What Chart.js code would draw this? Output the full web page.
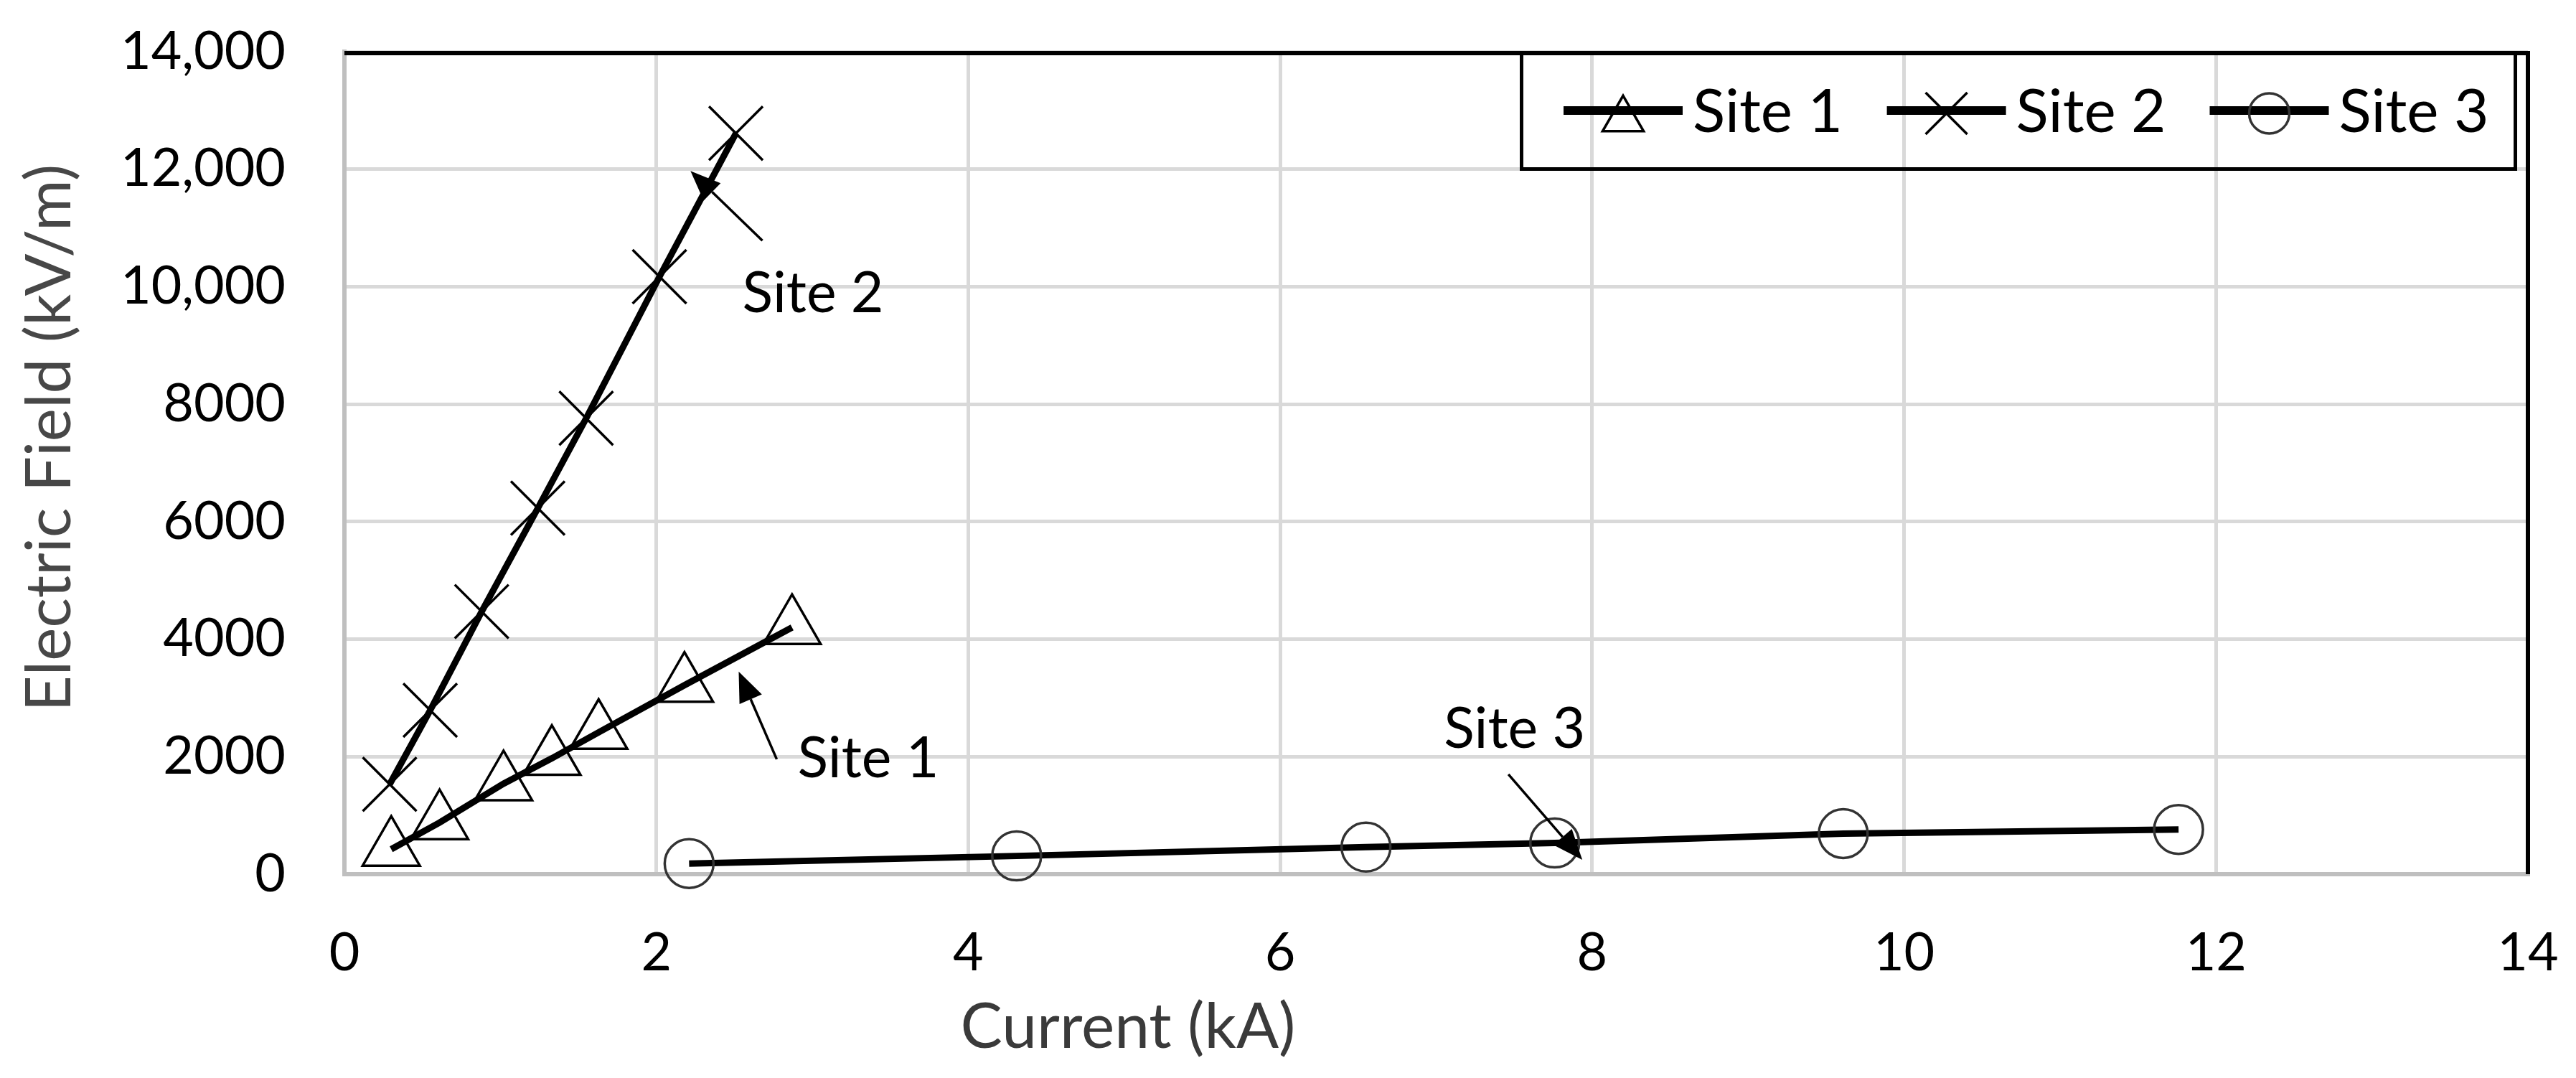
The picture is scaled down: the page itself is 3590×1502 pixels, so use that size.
<!DOCTYPE html>
<html>
<head>
<meta charset="utf-8">
<script src="https://cdn.jsdelivr.net/npm/chart.js@4.4.0/dist/chart.umd.min.js"></script>
<style>
html,body{margin:0;padding:0;background:#fff;overflow:hidden}
canvas{display:block}
</style>
</head>
<body>
<canvas id="c" width="3590" height="1502"></canvas>
<script>
// ---- data ----
const seriesNames = ['Site 1', 'Site 2', 'Site 3'];
const site1Current = [0.30, 0.61, 1.02, 1.33, 1.63, 2.18, 2.87];
const site1Field   = [425, 878, 1540, 1972, 2415, 3216, 4200];
const site2Current = [0.29, 0.55, 0.88, 1.24, 1.55, 2.02, 2.51];
const site2Field   = [1530, 2790, 4470, 6230, 7760, 10170, 12610];
const site3Current = [2.21, 4.31, 6.55, 7.76, 9.61, 11.76];
const site3Field   = [180, 310, 460, 530, 690, 760];
const xTickLabels = ['0', '2', '4', '6', '8', '10', '12', '14'];
const yTickLabels = ['0', '2000', '4000', '6000', '8000', '10,000', '12,000', '14,000'];
const xTitle = 'Current (kA)';
const yTitle = 'Electric Field (kV/m)';
const calloutTexts = ['Site 2', 'Site 1', 'Site 3'];

// ---- layout / style (kept apart from the data) ----
const FONT = 'Lato, "Open Sans", "Liberation Sans", sans-serif';
const mctx = document.createElement('canvas').getContext('2d');
function fitSize(text, width) {
  mctx.font = '100px ' + FONT;
  return 100 * width / mctx.measureText(text).width;
}
const tickSize = fitSize('14,000', 230);
const legendSize = fitSize('Site 1', 209);
const calloutSize = fitSize('Site 2', 197);
const xTitleSize = fitSize(xTitle, 467);
const yTitleSize = fitSize(yTitle, 763);

// callout placement in data units: label anchor (left, baseline), arrow tail, arrow tip
const calloutPlacement = [
  {tx: 2.551, ty: 9561, x0: 2.680, y0: 10784, x1: 2.219, y1: 11970},
  {tx: 2.905, ty: 1650, x0: 2.772, y0: 1956, x1: 2.528, y1: 3448},
  {tx: 7.049, ty: 2152, x0: 7.463, y0: 1700, x1: 7.937, y1: 245}
];

const markerStyles = [
  {pointStyle: 'triangle', radius: 46, legendRadius: 33, bw: 3.5, color: '#000'},
  {pointStyle: 'crossRot', radius: 53, legendRadius: 41, bw: 3.5, color: '#000'},
  {pointStyle: 'circle', radius: 34, legendRadius: 28, bw: 3.5, color: '#333'}
];

function pts(xs, ys) { return xs.map((x, i) => ({x: x, y: ys[i]})); }
function ds(i, data) {
  const m = markerStyles[i];
  return {
    label: seriesNames[i],
    data: data,
    showLine: true,
    borderColor: '#000',
    borderWidth: 9,
    pointStyle: m.pointStyle,
    pointRadius: m.radius,
    pointHoverRadius: m.radius,
    pointBorderWidth: m.bw,
    pointBorderColor: m.color,
    pointBackgroundColor: 'rgba(0,0,0,0)',
    clip: false
  };
}

const decorPlugin = {
  id: 'decor',
  afterDraw(chart) {
    const c = chart.ctx;
    const a = chart.chartArea;
    const xs = chart.scales.x, ys = chart.scales.y;
    c.save();
    // black top / right frame of the plot area
    c.strokeStyle = '#000';
    c.lineWidth = 6;
    c.beginPath();
    c.moveTo(a.left, a.top + 2); c.lineTo(a.right + 3, a.top + 2);
    c.moveTo(a.right, a.top); c.lineTo(a.right, a.bottom);
    c.stroke();

    // legend box
    c.lineWidth = 5;
    c.strokeRect(2120.5, a.top + 2.5, 1385, 161);
    const itemX = [2179, 2629.6, 3079.5];
    const lineY = a.top + 82;
    chart.data.datasets.forEach((d, i) => {
      const x0 = itemX[i];
      c.strokeStyle = '#000';
      c.lineWidth = 12;
      c.beginPath(); c.moveTo(x0, lineY); c.lineTo(x0 + 166, lineY); c.stroke();
      const m = markerStyles[i];
      c.strokeStyle = m.color;
      c.fillStyle = 'rgba(0,0,0,0)';
      c.lineWidth = m.bw;
      const py = m.pointStyle === 'triangle' ? lineY + 4 + m.legendRadius / 4 : lineY + 4;
      Chart.helpers.drawPoint(c, {pointStyle: m.pointStyle, radius: m.legendRadius, borderWidth: m.bw, rotation: 0}, x0 + 83, py);
      c.fillStyle = '#000';
      c.font = legendSize + 'px ' + FONT;
      c.textAlign = 'left';
      c.textBaseline = 'alphabetic';
      c.fillText(d.label, x0 + 180, lineY + 30);
    });

    // callouts with arrows
    calloutPlacement.forEach((p, i) => {
      const lx = xs.getPixelForValue(p.tx), ly = ys.getPixelForValue(p.ty);
      c.fillStyle = '#000';
      c.font = calloutSize + 'px ' + FONT;
      c.textAlign = 'left';
      c.textBaseline = 'alphabetic';
      c.fillText(calloutTexts[i], lx, ly);
      const ax = xs.getPixelForValue(p.x0), ay = ys.getPixelForValue(p.y0);
      const bx = xs.getPixelForValue(p.x1), by = ys.getPixelForValue(p.y1);
      const ang = Math.atan2(by - ay, bx - ax);
      const L = 42, W = 17;
      const hx = bx - L * Math.cos(ang), hy = by - L * Math.sin(ang);
      c.strokeStyle = '#000';
      c.lineWidth = 3.5;
      c.beginPath(); c.moveTo(ax, ay); c.lineTo(hx, hy); c.stroke();
      c.beginPath();
      c.moveTo(bx, by);
      c.lineTo(hx + W * Math.sin(ang), hy - W * Math.cos(ang));
      c.lineTo(hx - W * Math.sin(ang), hy + W * Math.cos(ang));
      c.closePath();
      c.fill();
    });

    // axis titles
    c.fillStyle = '#3a3a3a';
    c.font = xTitleSize + 'px ' + FONT;
    c.textAlign = 'center';
    c.textBaseline = 'alphabetic';
    c.fillText(xTitle, 1572, 1460);
    c.save();
    c.translate(98, 610);
    c.rotate(-Math.PI / 2);
    c.fillStyle = '#474747';
    c.font = yTitleSize + 'px ' + FONT;
    c.fillText(yTitle, 0, 0);
    c.restore();
    c.restore();
  }
};

new Chart(document.getElementById('c').getContext('2d'), {
  type: 'scatter',
  data: {
    datasets: [
      ds(0, pts(site1Current, site1Field)),
      ds(1, pts(site2Current, site2Field)),
      ds(2, pts(site3Current, site3Field))
    ]
  },
  options: {
    responsive: false,
    animation: false,
    devicePixelRatio: 1,
    events: [],
    layout: {autoPadding: false, padding: {left: 0, top: 72, right: 67, bottom: 0}},
    plugins: {legend: {display: false}, tooltip: {enabled: false}},
    scales: {
      x: {
        type: 'linear', min: 0, max: 14,
        ticks: {
          stepSize: 2, autoSkip: false, maxRotation: 0, color: '#000',
          font: {family: FONT, size: tickSize}, padding: 66,
          callback: (v, i) => xTickLabels[i]
        },
        grid: {color: '#d9d9d9', lineWidth: 5, drawTicks: false},
        border: {color: '#bfbfbf', width: 6},
        afterFit: s => { s.height = 1502 - 1218; s.paddingLeft = 0; s.paddingRight = 0; }
      },
      y: {
        type: 'linear', min: 0, max: 14000,
        ticks: {
          stepSize: 2000, autoSkip: false, color: '#000',
          font: {family: FONT, size: tickSize}, padding: 82,
          callback: (v, i) => yTickLabels[i]
        },
        grid: {color: '#d9d9d9', lineWidth: 5, drawTicks: false},
        border: {color: '#bfbfbf', width: 6},
        afterFit: s => { s.width = 480; s.paddingTop = 0; s.paddingBottom = 0; }
      }
    }
  },
  plugins: [decorPlugin]
});
</script>
</body>
</html>
